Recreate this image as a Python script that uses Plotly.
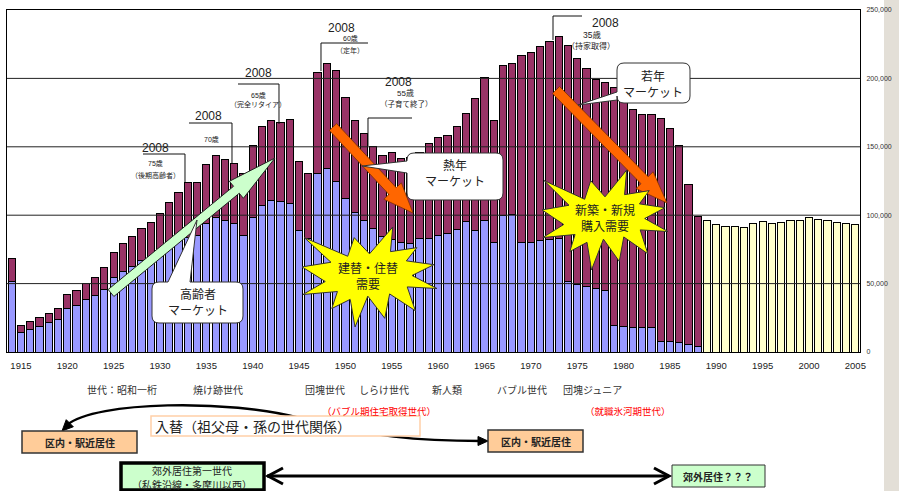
import plotly.graph_objects as go

W, H = 899, 491

# ---------------- data ----------------
years_main = list(range(1914, 1989))
lower_vals = [51700, 14600, 16600, 19000, 21500, 23900, 31700, 34100, 38300, 41200,
              45600, 54200, 58600, 62800, 66700, 70000, 74300, 78500, 81600, 84000,
              85100, 93900, 98300, 96300, 93900, 85100, 98300, 107100, 110400, 109700,
              108200, 89000, 82900, 130400, 134000, 124300, 112100, 102100, 96300, 90600,
              84500, 82400, 80400, 79200, 83000, 83100, 85500, 86500, 89700, 95300,
              88500, 95800, 80400, 99700, 100400, 79700, 80200, 81500, 82400, 82900,
              51800, 49400, 48000, 46100, 45100, 19500, 19000, 18000, 18000, 18000,
              8000, 7800, 6900, 5400, 4200]
upper_vals = [16600, 4900, 5800, 6400, 7000, 7800, 10500, 11000, 12100, 13600,
              16100, 18600, 20600, 21800, 23500, 24600, 27300, 30700, 34900, 40000,
              38900, 43300, 45700, 44600, 44000, 45500, 52800, 57400, 59000, 58400,
              62100, 50400, 47500, 74100, 76800, 81600, 74300, 67000, 63300, 59800,
              59300, 63300, 60700, 62800, 63200, 69200, 71200, 71900, 74800, 79200,
              96700, 105000, 88500, 109700, 110600, 137000, 138400, 142100, 144800, 148000,
              172600, 165100, 159500, 153100, 151900, 173500, 167000, 159400, 155500, 155500,
              162600, 155700, 144200, 117000, 94900]
years_future = list(range(1989, 2006))
future_vals = [95800, 93100, 91400, 92100, 91200, 94300, 95300, 93900, 95000, 96000,
               96000, 98200, 96500, 96000, 94800, 94300, 93100]
tick_years = list(range(1915, 2006, 5))
tick_labels = [str(y) for y in tick_years]
y_ticks = [0, 50000, 100000, 150000, 200000, 250000]

gen_labels = ["世代：昭和一桁", "焼け跡世代", "団塊世代", "しらけ世代", "新人類", "バブル世代", "団塊ジュニア"]

# ---------------- helpers ----------------
def px(x):
    return x / W

def py(y):
    return 1 - y / H

def poly(points):
    s = "M " + " L ".join(f"{px(x):.5f},{py(y):.5f}" for x, y in points) + " Z"
    return s

def arrow_pts(S, E, w, L, h):
    import math
    dx, dy = E[0] - S[0], E[1] - S[1]
    d = math.hypot(dx, dy)
    ux, uy = dx / d, dy / d
    nx, ny = -uy, ux
    Bx, By = E[0] - ux * L, E[1] - uy * L
    return [(S[0] + nx * w, S[1] + ny * w), (Bx + nx * w, By + ny * w), (Bx + nx * h, By + ny * h),
            E, (Bx - nx * h, By - ny * h), (Bx - nx * w, By - ny * w), (S[0] - nx * w, S[1] - ny * w)]

def head_pts(tip, frm, L, h):
    import math
    dx, dy = tip[0] - frm[0], tip[1] - frm[1]
    d = math.hypot(dx, dy)
    ux, uy = dx / d, dy / d
    nx, ny = -uy, ux
    Bx, By = tip[0] - ux * L, tip[1] - uy * L
    return [tip, (Bx + nx * h, By + ny * h), (Bx - nx * h, By - ny * h)]

SEAL = [(10800, 5800), (14522, 0), (14155, 5325), (18380, 4457), (16702, 7315), (21097, 8137),
        (17607, 10475), (21600, 13290), (16837, 12942), (18145, 18095), (14020, 14457),
        (13247, 19737), (10532, 14935), (8485, 21600), (7715, 15627), (4762, 17617),
        (5667, 13937), (135, 14587), (3722, 11775), (0, 8615), (4627, 7617), (370, 2295),
        (7312, 6320), (8352, 2295)]

def seal(x0, y0, x1, y1):
    return [(x0 + (x1 - x0) * a / 21600, y0 + (y1 - y0) * b / 21600) for a, b in SEAL]

def P(x, y):
    return f"{px(x):.5f},{py(y):.5f}"

def rrect_path(x0, y0, x1, y1, r, tail=None):
    # tail: (edge, [points inserted along edge])
    segs = [f"M {P(x0 + r, y0)}"]
    if tail and tail[0] == "top":
        segs += [f"L {P(*p)}" for p in tail[1]]
    segs.append(f"L {P(x1 - r, y0)}")
    segs.append(f"Q {P(x1, y0)} {P(x1, y0 + r)}")
    segs.append(f"L {P(x1, y1 - r)}")
    segs.append(f"Q {P(x1, y1)} {P(x1 - r, y1)}")
    segs.append(f"L {P(x0 + r, y1)}")
    segs.append(f"Q {P(x0, y1)} {P(x0, y1 - r)}")
    if tail and tail[0] == "left":
        segs += [f"L {P(*p)}" for p in tail[1]]
    segs.append(f"L {P(x0, y0 + r)}")
    segs.append(f"Q {P(x0, y0)} {P(x0 + r, y0)}")
    segs.append("Z")
    return " ".join(segs)

FONT = "Liberation Sans, Noto Sans CJK JP, sans-serif"
JFONT = "Noto Sans CJK JP, sans-serif"

fig = go.Figure()
fig.add_trace(go.Bar(x=years_main, y=lower_vals, marker=dict(color="#9999FF", line=dict(color="#000000", width=1)),
                     showlegend=False, hoverinfo="skip"))
fig.add_trace(go.Bar(x=years_main, y=upper_vals, marker=dict(color="#993366", line=dict(color="#000000", width=1)),
                     showlegend=False, hoverinfo="skip"))
fig.add_trace(go.Bar(x=years_future, y=future_vals, marker=dict(color="#FFFFCC", line=dict(color="#000000", width=1)),
                     showlegend=False, hoverinfo="skip"))

shapes = []
ann = []

# right gray strip
shapes.append(dict(type="rect", xref="paper", yref="paper", x0=px(884), x1=1, y0=0, y1=1,
                   fillcolor="#E3DFD7", line=dict(width=0), layer="below"))

# gridlines on top of bars
for v in y_ticks[1:-1]:
    shapes.append(dict(type="line", xref="paper", yref="y", x0=px(7), x1=px(860), y0=v, y1=v,
                       line=dict(color="#222222", width=1), layer="above"))

# bracket lines for 2008 labels
brackets = [
    [(143, 154), (185, 154), (185, 182)],
    [(189, 123), (232, 123), (232, 163)],
    [(238, 84), (279, 84), (279, 124)],
    [(368, 43), (321, 43), (321, 71)],
    [(412, 118), (368, 118), (368, 146)],
    [(582, 16), (553, 16), (553, 40)],
]
for br in brackets:
    path = "M " + " L ".join(P(x, y) for x, y in br)
    shapes.append(dict(type="path", xref="paper", yref="paper", path=path,
                       line=dict(color="#111111", width=1), layer="above"))

# green arrow
shapes.append(dict(type="path", xref="paper", yref="paper", path=poly(arrow_pts((111, 293), (275, 158), 4.5, 50, 11)),
                   fillcolor="#CCFFCC", line=dict(color="#222222", width=1), layer="above"))
# orange arrows
shapes.append(dict(type="path", xref="paper", yref="paper", path=poly(arrow_pts((333, 127), (413, 213), 5, 30, 12)),
                   fillcolor="#FF6600", line=dict(color="#803000", width=0.8), layer="above"))
shapes.append(dict(type="path", xref="paper", yref="paper", path=poly(arrow_pts((556, 90), (667, 203), 5, 32, 12)),
                   fillcolor="#FF6600", line=dict(color="#803000", width=0.8), layer="above"))

# explosions
shapes.append(dict(type="path", xref="paper", yref="paper", path=poly(seal(302, 227, 437, 327)),
                   fillcolor="#FFFF00", line=dict(color="#333333", width=1), layer="above"))
shapes.append(dict(type="path", xref="paper", yref="paper", path=poly(seal(542, 170, 668, 270)),
                   fillcolor="#FFFF00", line=dict(color="#333333", width=1), layer="above"))

# callouts
shapes.append(dict(type="path", xref="paper", yref="paper",
                   path=rrect_path(152, 282, 243, 323, 7, ("top", [(168, 282), (197, 220), (190, 282)])),
                   fillcolor="#FFFFFF", line=dict(color="#333333", width=1), layer="above"))
shapes.append(dict(type="path", xref="paper", yref="paper",
                   path=rrect_path(407, 153, 503, 200, 7, ("left", [(407, 173), (362, 166), (407, 161)])),
                   fillcolor="#FFFFFF", line=dict(color="#333333", width=1), layer="above"))
shapes.append(dict(type="path", xref="paper", yref="paper",
                   path=rrect_path(617, 63, 690, 103, 7, ("left", [(617, 100), (578, 105), (617, 92)])),
                   fillcolor="#FFFFFF", line=dict(color="#333333", width=1), layer="above"))

# curved double arrow (入替)
shapes.append(dict(type="path", xref="paper", yref="paper",
                   path=f"M {P(67, 425)} C {P(95, 401)} {P(230, 399)} {P(300, 418)} S {P(420, 441)} {P(481, 441)}",
                   line=dict(color="#000000", width=2.5), layer="above"))
shapes.append(dict(type="path", xref="paper", yref="paper", path=poly(head_pts((62, 431), (74, 419), 11, 5)),
                   fillcolor="#000000", line=dict(color="#000000", width=1), layer="above"))
shapes.append(dict(type="path", xref="paper", yref="paper", path=poly(head_pts((488, 441), (470, 441), 10, 4.5)),
                   fillcolor="#000000", line=dict(color="#000000", width=1), layer="above"))
# 入替 box
shapes.append(dict(type="rect", xref="paper", yref="paper", x0=px(151), x1=px(420), y0=py(436), y1=py(416),
                   fillcolor="#FFFFFF", line=dict(color="#FFD0A8", width=1.5), layer="above"))
# orange boxes
for x0, x1, y0, y1 in [(22, 137, 431, 453), (488, 583, 430, 452)]:
    shapes.append(dict(type="rect", xref="paper", yref="paper", x0=px(x0), x1=px(x1), y0=py(y1), y1=py(y0),
                       fillcolor="#FFCC99", line=dict(color="#333333", width=1.5), layer="above"))
# double straight arrow
shapes.append(dict(type="line", xref="paper", yref="paper", x0=px(267), x1=px(669), y0=py(476), y1=py(476),
                   line=dict(color="#000000", width=3), layer="above"))
for pts in [[(283, 468), (268, 476), (283, 484)], [(654, 468), (669, 476), (654, 484)]]:
    shapes.append(dict(type="path", xref="paper", yref="paper", path="M " + " L ".join(P(*p) for p in pts),
                       line=dict(color="#000000", width=3), layer="above"))
# green boxes
shapes.append(dict(type="rect", xref="paper", yref="paper", x0=px(121), x1=px(264), y0=py(490), y1=py(463),
                   fillcolor="#CCFFCC", line=dict(color="#000000", width=3.5), layer="above"))
shapes.append(dict(type="rect", xref="paper", yref="paper", x0=px(672), x1=px(765), y0=py(487), y1=py(465),
                   fillcolor="#CCFFCC", line=dict(color="#333333", width=1), layer="above"))

def text(x, y, s, size, color="#222222", xanchor="center", family=FONT):
    ann.append(dict(x=px(x), y=py(y), xref="paper", yref="paper", text=s, showarrow=False,
                    xanchor=xanchor, yanchor="middle", font=dict(size=size, color=color, family=family)))

# 2008 labels
for (x, y) in [(155, 148), (208, 116), (258, 73), (341, 28), (398, 82), (605, 23)]:
    text(x, y, "2008", 12)
text(155, 163, "75歳", 7)
text(155, 175, "（後期高齢者）", 7)
text(211, 139, "70歳", 7)
text(258, 95, "65歳", 7)
text(258, 104, "（完全リタイア）", 7)
text(350, 38, "60歳", 7)
text(350, 50, "（定年）", 7)
text(405, 93, "55歳", 8)
text(406, 104, "（子育て終了）", 7.5)
text(592, 35, "35歳", 8.5)
text(591, 46, "（持家取得）", 8)

# callout texts
text(198, 301, "高齢者<br>マーケット", 12, family=JFONT)
text(455, 173, "熱年<br>マーケット", 12, family=JFONT)
text(653, 83, "若年<br>マーケット", 12, family=JFONT)
# explosion texts
text(368, 275, "建替・住替<br>需要", 12, family=JFONT)
text(605, 217, "新築・新規<br>購入需要", 12, family=JFONT)

# generation labels
for s, x in zip(gen_labels, [122, 218, 325, 384, 447, 522, 592]):
    text(x, 389, s, 10, color="#333333", family=JFONT)
text(379, 411, "（バブル期住宅取得世代）", 9.5, color="#FF0000", family=JFONT)
text(628, 411, "（就職氷河期世代）", 9.5, color="#FF0000", family=JFONT)
text(153, 426, "入替（祖父母・孫の世代関係）", 14, xanchor="left", family=JFONT)
text(80, 442, "<b>区内・駅近居住</b>", 10, family=JFONT)
text(536, 441, "<b>区内・駅近居住</b>", 10, family=JFONT)
text(192, 470, "郊外居住第一世代", 10, family=JFONT)
text(192, 484, "（私鉄沿線・多摩川以西）", 10, family=JFONT)
text(718, 476, "<b>郊外居住？？？</b>", 10, family=JFONT)

fig.update_layout(
    template="none",
    width=W, height=H,
    margin=dict(l=0, r=0, t=0, b=0),
    paper_bgcolor="#FFFFFF", plot_bgcolor="#FFFFFF",
    barmode="stack", bargap=0.22,
    font=dict(family=FONT, color="#222222"),
    shapes=shapes, annotations=ann,
    xaxis=dict(domain=[px(7), px(860)], range=[1913.5, 2005.5], tickvals=tick_years, ticktext=tick_labels,
               tickfont=dict(size=9.5, color="#222222"), showgrid=False, zeroline=False,
               showline=True, linecolor="#000000", linewidth=1, mirror=True, ticks="", ticklabelstandoff=5,
               automargin=False, fixedrange=True),
    yaxis=dict(domain=[py(352), py(10)], range=[0, 250000], side="right", tickvals=y_ticks, tickformat=",d",
               tickfont=dict(size=7, color="#333333"), showgrid=False, zeroline=False,
               showline=True, linecolor="#000000", linewidth=1, mirror=True, ticks="", ticklabelstandoff=4,
               automargin=False, fixedrange=True),
)

fig.write_html("out.html")
